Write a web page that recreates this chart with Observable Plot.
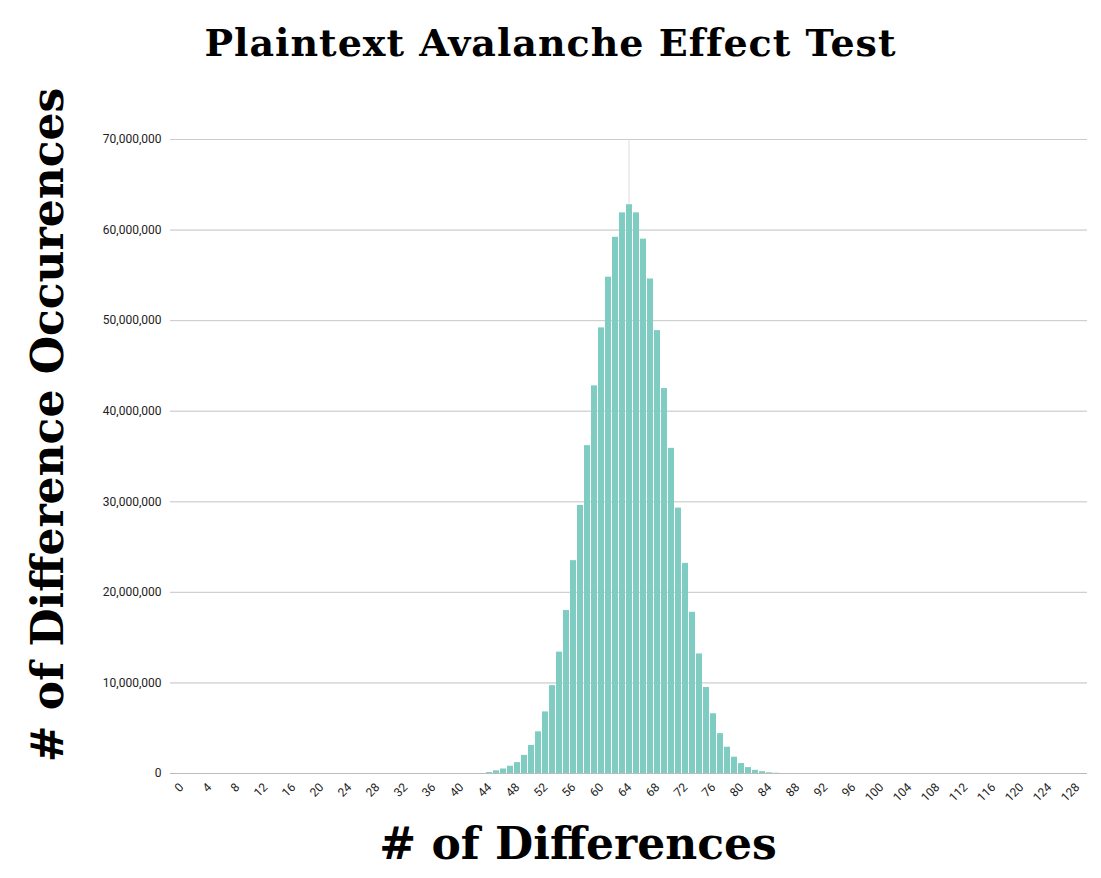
<!DOCTYPE html>
<html><head><meta charset="utf-8">
<script src="https://cdn.jsdelivr.net/npm/d3@7"></script>
<script src="https://cdn.jsdelivr.net/npm/@observablehq/plot@0.6"></script>
<style>
body{margin:0;background:#fff;width:1101px;height:878px;position:relative;overflow:hidden}
#title{position:absolute;top:20px;left:0;width:1101px;text-align:center;font:bold 38px "DejaVu Serif",serif;letter-spacing:1px}
#ylab{position:absolute;left:47px;top:425px;transform:translate(-50%,-50%) rotate(-90deg);white-space:nowrap;font:bold 44px "DejaVu Serif",serif}
#xlab{position:absolute;top:818px;left:0;width:1156px;text-align:center;font:bold 44px "DejaVu Serif",serif}
#chart1{position:absolute;top:80px;left:0}
</style></head><body>
<div id="title">Plaintext Avalanche Effect Test</div>
<div id="ylab"># of Difference Occurences</div>
<div id="xlab"># of Differences</div>
<div id="chart1"></div>
<script>
// differences 0..128, counts (0 where invisible)
let diffs = d3.range(0, 129)
let counts_mid = [ // 44..85
  0.1e6, 0.3e6, 0.5e6, 0.8e6, 1.2e6, 2.0e6, 3.1e6, 4.6e6, 6.8e6, 9.7e6,
  13.4e6, 18.0e6, 23.5e6, 29.6e6, 36.2e6, 42.8e6, 49.2e6, 54.8e6, 59.2e6, 61.9e6,
  62.8e6, 61.9e6, 59.0e6, 54.6e6, 48.9e6, 42.5e6, 35.9e6, 29.3e6, 23.2e6, 17.8e6,
  13.2e6, 9.5e6, 6.6e6, 4.4e6, 2.9e6, 1.8e6, 1.1e6, 0.65e6, 0.35e6, 0.2e6,
  0.08e6, 0.03e6
]
let data = diffs.map(d => ({diff: d, count: (d >= 44 && d <= 85) ? counts_mid[d - 44] : 0}))

let chart1 = Plot.plot({
  width: 1101,
  height: 740,
  marginLeft: 170,
  marginRight: 14,
  marginTop: 59,
  marginBottom: 47,
  style: {fontFamily: "Roboto, sans-serif", fontSize: "12px", color: "#222", background: "transparent"},
  x: {type: "band", domain: diffs, padding: 0.15, label: null, tickRotate: -45,
      ticks: diffs.filter(d => d % 4 == 0), tickSize: 0},
  y: {domain: [0, 70e6], ticks: d3.range(0, 70e6 + 1, 10e6), label: null, tickSize: 0,
      tickFormat: d => d3.format(",")(d), grid: true},
  marks: [
    Plot.gridY(d3.range(0, 70e6 + 1, 10e6), {stroke: "#ccc", strokeOpacity: 1}),
    Plot.ruleX([0], {stroke: "#ddd", x: null}),
    Plot.barY(data, {x: "diff", y: "count", fill: "#7fcdc2"}),
    Plot.ruleY([0], {stroke: "#bbb"})
  ]
})
d3.select("#chart1").append(() => chart1)
</script>
</body></html>
